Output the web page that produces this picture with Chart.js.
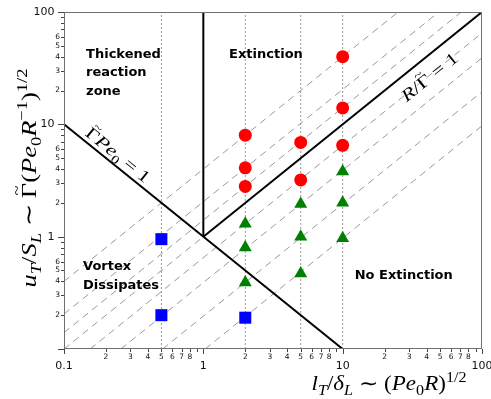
<!DOCTYPE html>
<html>
<head>
<meta charset="utf-8">
<script src="https://cdn.jsdelivr.net/npm/chart.js@4"></script>
<style>
  body { margin: 0; background: #fff; }
  #wrap { width: 491px; height: 399px; }
</style>
</head>
<body>
<div id="wrap"><canvas id="regimeChart"></canvas></div>
<script>
// points: x = l_T/delta_L, y = u_T/S_L
const extinctionPts = [
  {x: 2, y: 8.0}, {x: 2, y: 4.1}, {x: 2, y: 2.8},
  {x: 5, y: 6.9}, {x: 5, y: 3.2},
  {x: 10, y: 40}, {x: 10, y: 14}, {x: 10, y: 6.5}
];
const noExtinctionPts = [
  {x: 2, y: 1.3}, {x: 2, y: 0.8}, {x: 2, y: 0.39},
  {x: 5, y: 1.95}, {x: 5, y: 1.0}, {x: 5, y: 0.47},
  {x: 10, y: 3.8}, {x: 10, y: 2.0}, {x: 10, y: 0.97}
];
const dissipatePts = [{x: 0.5, y: 0.95}, {x: 0.5, y: 0.2}, {x: 2, y: 0.19}];

// dotted verticals at the sampled length scales
const guideX = [0.5, 2, 5, 10];
// grey dashed lines, end points where they meet the frame
const dashedLines = [
  [[0.1, 0.4], [25, 100]],
  [[0.1, 0.205], [49, 100]],
  [[0.1, 0.14], [71, 100]],
  [[0.1, 0.1], [1, 1]],
  [[0.154, 0.1], [100, 65]],
  [[0.256, 0.1], [100, 39]],
  [[0.51, 0.1], [100, 19.5]],
  [[1.03, 0.1], [100, 9.7]]
];
// regime boundaries
const boundaryLines = [
  [[1, 1], [100, 100]],   // R/Gamma = 1
  [[0.1, 10], [10, 0.1]], // Gamma Pe0 = 1
  [[1, 1], [1, 100]]
];

const axisMin = 0.1, axisMax = 100;
const decades = [0.1, 1, 10];
const mantissas = [1, 2, 3, 4, 5, 6, 7, 8, 9];
const labelledX = [2, 3, 4, 5, 6, 7, 8];
const labelledY = [2, 3, 4, 5, 6];

const tickValues = [];
decades.forEach(d => mantissas.forEach(m => tickValues.push(m * d)));
tickValues.push(axisMax);

function mant(v) {
  return Math.round(v / Math.pow(10, Math.floor(Math.log10(v) + 1e-9)));
}
function isMajor(v) { return mant(v) === 1; }
function majorText(v) { return v < 1 ? '0.1' : String(Math.round(v)); }

function toXY(pair) { return pair.map(p => ({x: p[0], y: p[1]})); }

const datasets = [
  {data: extinctionPts, backgroundColor: '#ff0000', pointStyle: 'circle', pointRadius: 6.5, pointBorderWidth: 0},
  {data: noExtinctionPts, backgroundColor: '#008000', pointStyle: 'triangle', pointRadius: 7.5, pointBorderWidth: 0},
  {data: dissipatePts, backgroundColor: '#0000ff', pointStyle: 'rect', pointRadius: 8.5, pointBorderWidth: 0}
];
boundaryLines.forEach(l => datasets.push({
  data: toXY(l), showLine: true, borderColor: '#000', borderWidth: 2, pointRadius: 0
}));
dashedLines.forEach(l => datasets.push({
  data: toXY(l), showLine: true, borderColor: '#999', borderWidth: 1, borderDash: [7, 5], pointRadius: 0
}));
guideX.forEach(gx => datasets.push({
  data: [{x: gx, y: axisMin}, {x: gx, y: axisMax}], showLine: true,
  borderColor: '#999', borderWidth: 1, borderDash: [2, 2], pointRadius: 0
}));

// draws a row of math pieces [text, 'i' for italic, 'sub' | 'sup' | 'tilde'],
// stretched sideways so that the whole row is `width` px long
function drawMath(ctx, segs, cx, cy, size, width, angle) {
  const fontOf = s => {
    const small = s[2] === 'sub' || s[2] === 'sup';
    return (s[1] === 'i' ? 'italic ' : '') + (small ? size * 0.7 : size) + 'px "Liberation Serif"';
  };
  ctx.save();
  const natural = segs.reduce((a, s) => { ctx.font = fontOf(s); return a + ctx.measureText(s[0]).width; }, 0);
  ctx.translate(cx, cy);
  ctx.rotate(angle);
  ctx.scale(width / natural, 1);
  let x = -natural / 2;
  ctx.fillStyle = '#000';
  ctx.textBaseline = 'alphabetic';
  segs.forEach(s => {
    ctx.font = fontOf(s);
    const w = ctx.measureText(s[0]).width;
    const dy = s[2] === 'sub' ? size * 0.22 : s[2] === 'sup' ? -size * 0.42 : 0;
    ctx.fillText(s[0], x, size * 0.32 + dy);
    if (s[2] === 'tilde') {
      ctx.font = (size * 0.7) + 'px "Liberation Serif"';
      ctx.textAlign = 'center';
      ctx.fillText('~', x + w / 2, size * 0.32 - size * 0.62);
      ctx.textAlign = 'left';
    }
    x += w;
  });
  ctx.restore();
}

const decorations = {
  id: 'decorations',
  afterDraw(chart) {
    const {ctx, chartArea: a, scales} = chart;
    const sx = scales.x, sy = scales.y;
    ctx.save();
    // frame
    ctx.strokeStyle = '#707070';
    ctx.lineWidth = 1;
    ctx.strokeRect(a.left + 0.5, a.top + 0.5, a.right - a.left - 1, a.bottom - a.top - 1);
    // ticks
    ctx.strokeStyle = '#444';
    ctx.beginPath();
    sx.ticks.forEach(t => {
      const px = Math.round(sx.getPixelForValue(t.value)) + 0.5;
      ctx.moveTo(px, a.bottom);
      ctx.lineTo(px, a.bottom + (isMajor(t.value) ? 5 : 3));
    });
    sy.ticks.forEach(t => {
      const py = Math.round(sy.getPixelForValue(t.value)) + 0.5;
      ctx.moveTo(a.left, py);
      ctx.lineTo(a.left - (isMajor(t.value) ? 6 : 3), py);
    });
    ctx.stroke();

    // region names
    ctx.fillStyle = '#000';
    ctx.font = 'bold 13px "DejaVu Sans"';
    ctx.textBaseline = 'middle';
    ctx.textAlign = 'left';
    const put = (lines, x, y) => {
      const px = sx.getPixelForValue(x), py = sy.getPixelForValue(y);
      lines.forEach((s, i) => ctx.fillText(s, px, py + i * 18.5));
    };
    put(['Thickened', 'reaction', 'zone'], 0.144, 42);
    put(['Extinction'], 1.53, 42);
    put(['Vortex', 'Dissipates'], 0.137, 0.54);
    put(['No Extinction'], 12.2, 0.45);
    ctx.restore();

    // boundary labels, turned along the lines
    const ang = Math.atan2(sy.getPixelForValue(10) - sy.getPixelForValue(1),
                           sx.getPixelForValue(10) - sx.getPixelForValue(1));
    drawMath(ctx, [['R', 'i'], ['/'], ['\u0393', '', 'tilde'], [' = 1']],
      sx.getPixelForValue(42), sy.getPixelForValue(26.4), 17, 68, ang);
    drawMath(ctx, [['\u0393', '', 'tilde'], ['Pe', 'i'], ['0', '', 'sub'], [' = 1']],
      sx.getPixelForValue(0.244), sy.getPixelForValue(5.33), 17, 78, -ang);

    // axis titles
    drawMath(ctx, [['l', 'i'], ['T', 'i', 'sub'], ['/'], ['\u03b4', 'i'], ['L', 'i', 'sub'],
      [' \u223c ('], ['Pe', 'i'], ['0', '', 'sub'], ['R', 'i'], [')'], ['1/2', '', 'sup']],
      389, 384, 20, 155, 0);
    drawMath(ctx, [['u', 'i'], ['T', 'i', 'sub'], ['/'], ['S', 'i'], ['L', 'i', 'sub'],
      [' \u223c '], ['\u0393', '', 'tilde'], ['('], ['Pe', 'i'], ['0', '', 'sub'], ['R', 'i'],
      ['\u22121', '', 'sup'], [')'], ['1/2', '', 'sup']],
      29, 178, 22, 219, -Math.PI / 2);
  }
};

function tickFont(c) {
  const v = c.tick ? c.tick.value : 1;
  return isMajor(v) ? {family: 'DejaVu Sans', size: 11, lineHeight: 0.82} : {family: 'DejaVu Sans', size: 7.5};
}

new Chart(document.getElementById('regimeChart'), {
  type: 'scatter',
  data: {datasets: datasets},
  plugins: [decorations],
  options: {
    responsive: true,
    maintainAspectRatio: false,
    animation: false,
    layout: {padding: {top: 12, right: 9, left: 0, bottom: 0}},
    plugins: {legend: {display: false}, tooltip: {enabled: false}},
    scales: {
      x: {
        type: 'logarithmic', min: axisMin, max: axisMax,
        grid: {display: false, drawTicks: false}, border: {display: false},
        afterBuildTicks: sc => { sc.ticks = tickValues.map(v => ({value: v})); },
        afterFit: sc => { sc.height = 50; sc.paddingLeft = 0; sc.paddingRight = 0; },
        ticks: {
          autoSkip: false, maxRotation: 0, padding: 3.5, color: '#111', font: tickFont,
          callback: v => {
            const m = mant(v);
            if (m === 1) return ['', majorText(v)];
            return labelledX.includes(m) ? String(m) : '';
          }
        }
      },
      y: {
        type: 'logarithmic', min: axisMin, max: axisMax,
        grid: {display: false, drawTicks: false}, border: {display: false},
        afterBuildTicks: sc => { sc.ticks = tickValues.map(v => ({value: v})); },
        afterFit: sc => { sc.width = 64; sc.paddingTop = 0; sc.paddingBottom = 0; },
        ticks: {
          autoSkip: false, padding: 4, color: '#111', font: tickFont,
          callback: v => {
            const m = mant(v);
            if (m === 1) return v < 1 ? '' : majorText(v) + '\u2002';
            return labelledY.includes(m) ? String(m) : '';
          }
        }
      }
    }
  }
});
</script>
</body>
</html>
